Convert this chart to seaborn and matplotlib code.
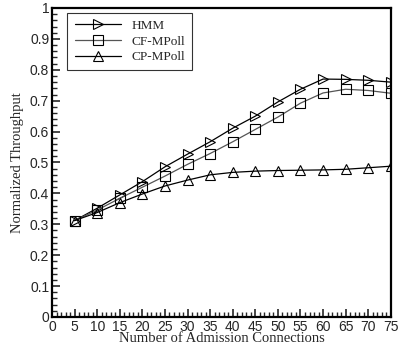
import matplotlib
matplotlib.use("Agg")
import matplotlib.pyplot as plt
import seaborn as sns
import pandas as pd
from matplotlib.ticker import MultipleLocator

x = [5, 10, 15, 20, 25, 30, 35, 40, 45, 50, 55, 60, 65, 70, 75]
hmm = [0.312, 0.352, 0.395, 0.438, 0.486, 0.527, 0.567, 0.611, 0.650, 0.696, 0.737, 0.770, 0.769, 0.766, 0.760]
cf = [0.312, 0.346, 0.384, 0.420, 0.456, 0.494, 0.529, 0.567, 0.607, 0.647, 0.692, 0.725, 0.737, 0.733, 0.724]
cp = [0.312, 0.338, 0.370, 0.398, 0.424, 0.443, 0.460, 0.468, 0.472, 0.474, 0.475, 0.476, 0.478, 0.483, 0.488]
labels = ["HMM", "CF-MPoll", "CP-MPoll"]

sns.set_style("ticks")
plt.rcParams['font.family'] = ['Liberation Sans', 'DejaVu Sans']

fig = plt.figure(figsize=(3.98, 3.5), dpi=100)
ax = fig.add_axes([0.1307, 0.0943, 0.8513, 0.8829])

styles = [
    (hmm, labels[0], ">", "black"),
    (cf, labels[1], "s", "#555555"),
    (cp, labels[2], "^", "black"),
]
for vals, lab, mk, col in styles:
    df = pd.DataFrame({"x": x, "y": vals})
    sns.lineplot(data=df, x="x", y="y", ax=ax, color=col, linewidth=0.9,
                 marker=mk, markersize=6.5, markerfacecolor="none",
                 markeredgecolor="black", markeredgewidth=0.8, label=lab)

ax.set_xlim(0, 75)
ax.set_ylim(0, 1)
ax.xaxis.set_major_locator(MultipleLocator(5))
ax.xaxis.set_minor_locator(MultipleLocator(1))
ax.yaxis.set_minor_locator(MultipleLocator(0.02))
ax.set_yticks([0, 0.1, 0.2, 0.3, 0.4, 0.5, 0.6, 0.7, 0.8, 0.9, 1.0])
ax.set_yticklabels(["0", "0.1", "0.2", "0.3", "0.4", "0.5", "0.6", "0.7", "0.8", "0.9", "1"])
ax.tick_params(which="major", direction="in", length=6, width=1.2, labelsize=10,
               top=False, right=False, pad=2)
ax.tick_params(which="minor", direction="in", length=3.5, width=1.0,
               top=False, right=False)
for s in ax.spines.values():
    s.set_linewidth(1.6)
    s.set_color("black")

ax.set_xlabel("Number of Admission Connections", family="Liberation Serif", fontsize=10.5, labelpad=-1)
ax.set_ylabel("Normalized Throughput", family="Liberation Serif", fontsize=10.5, labelpad=4)

leg = ax.legend(loc="upper left", bbox_to_anchor=(0.045, 0.985), frameon=True, fancybox=False,
                prop={"family": "Liberation Serif", "size": 9.5}, handlelength=3.5,
                borderpad=0.55, labelspacing=0.25, handletextpad=0.8, borderaxespad=0)
leg.get_frame().set_edgecolor("black")
leg.get_frame().set_linewidth(0.8)

fig.savefig("out.png", dpi=100)
